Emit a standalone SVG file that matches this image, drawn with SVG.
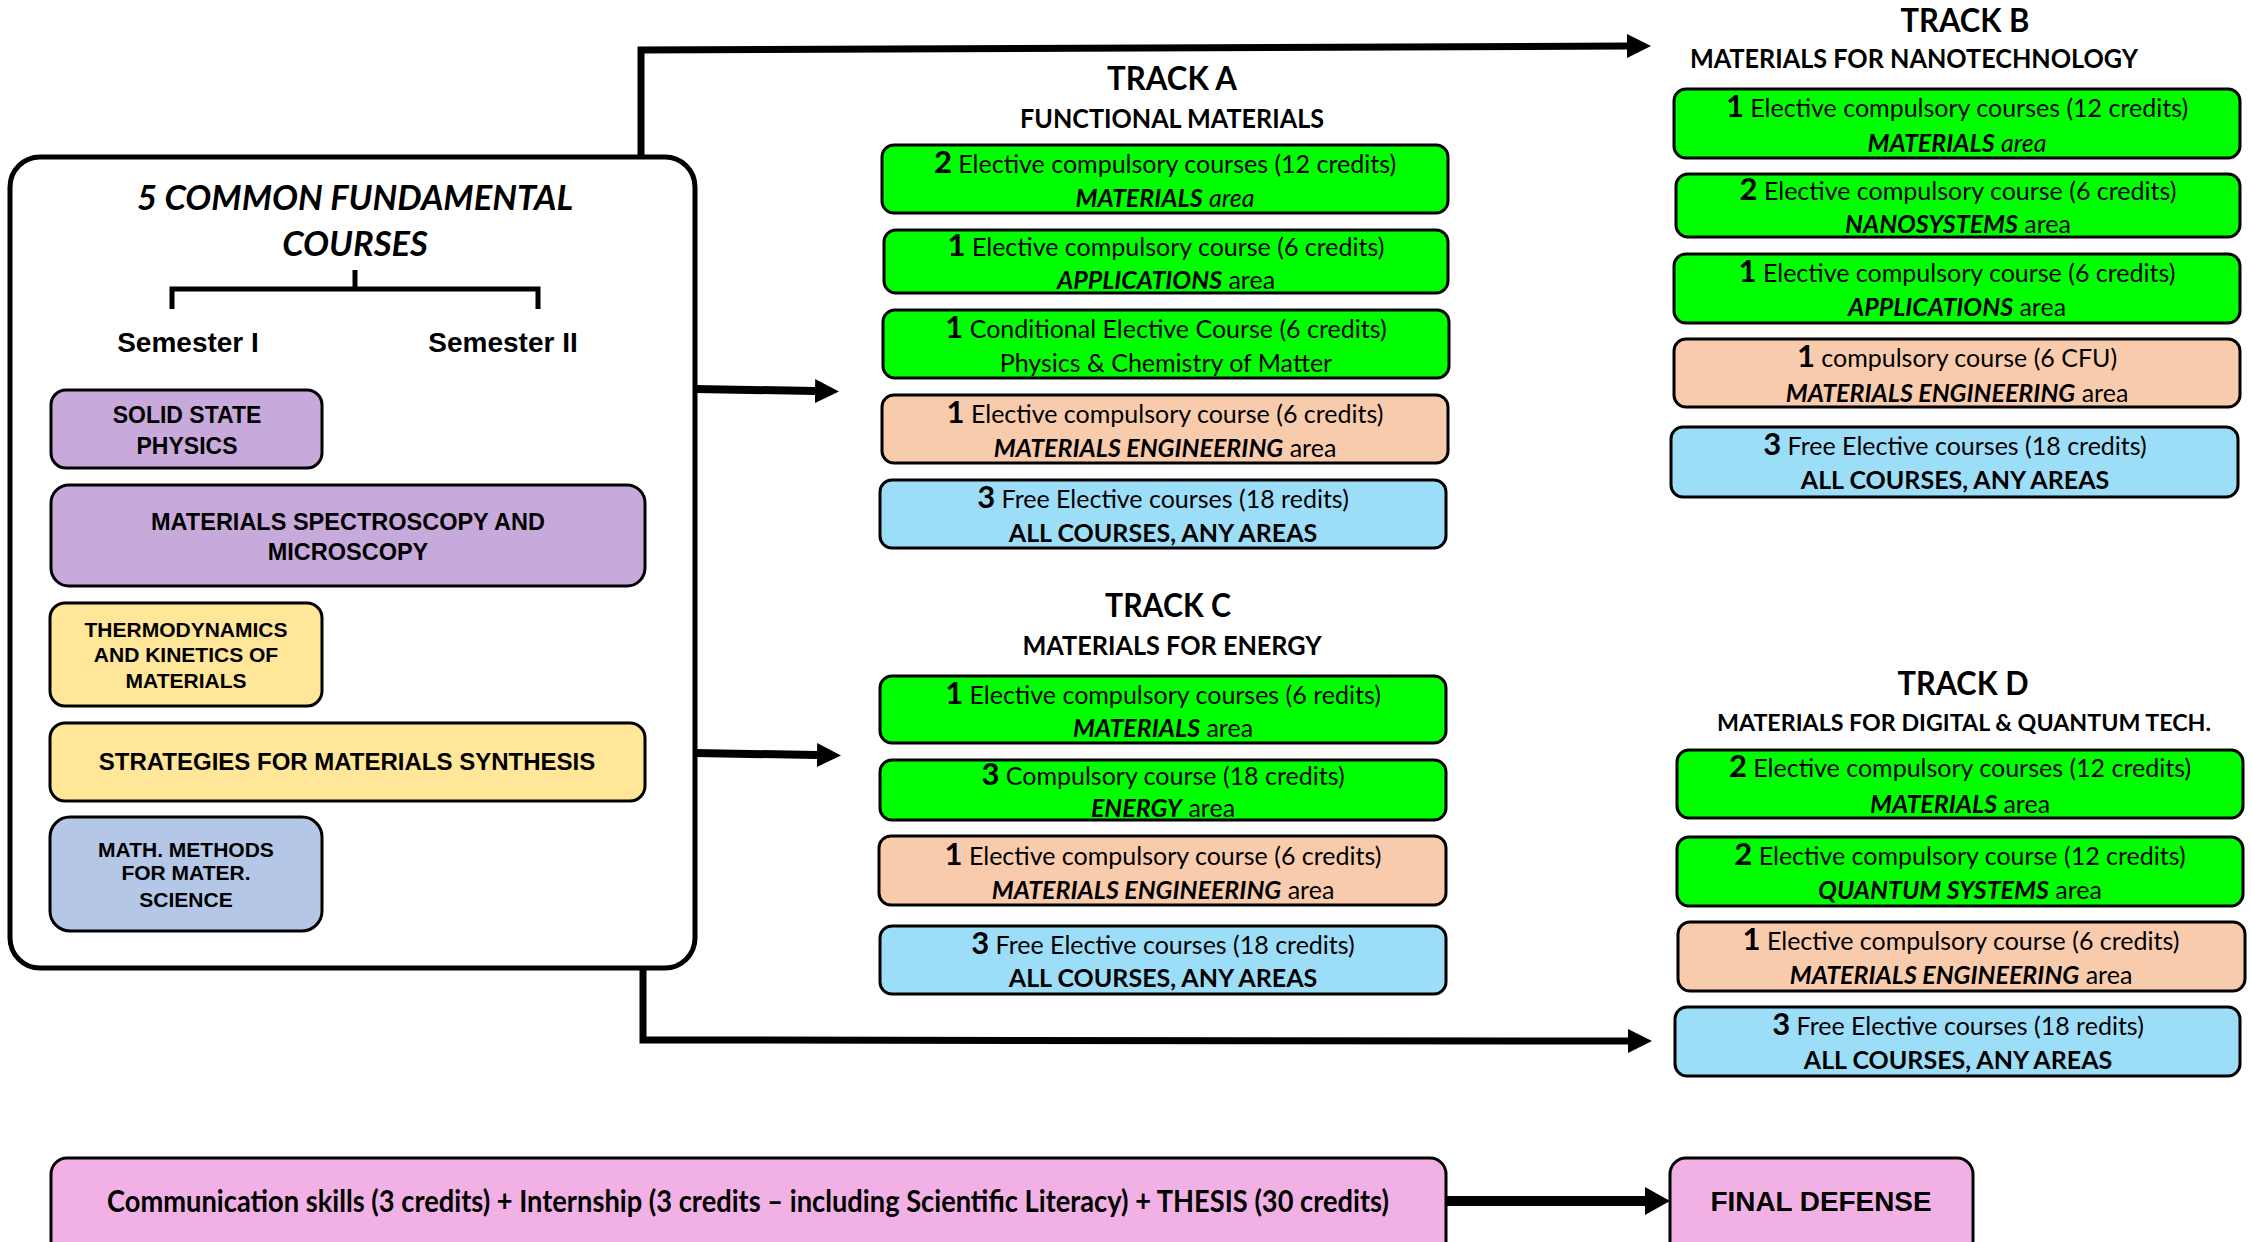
<svg xmlns="http://www.w3.org/2000/svg" width="2251" height="1242" viewBox="0 0 2251 1242">
<style>
.bg{fill:#ffffff}
.main{fill:#ffffff;stroke:#000;stroke-width:5}
.ib{stroke:#000;stroke-width:3}
.tb{stroke:#000;stroke-width:3}
.purple{fill:#C8A9DC}
.yellow{fill:#FFE699}
.slate{fill:#B4C7E7}
.green{fill:#00FF00}
.peach{fill:#F8CBAD}
.blue{fill:#9CDDF8}
.pink{fill:#F1B1E4}
.conn{fill:none;stroke:#000;stroke-width:7;stroke-linejoin:miter}
.lt{font-family:"Liberation Sans",Arial,sans-serif;font-weight:700;text-anchor:middle;fill:#000}
.title{font-family:Lato,"Open Sans",sans-serif;font-weight:700;font-style:italic;font-size:34.5px;text-anchor:middle;fill:#000}
.h1{font-family:Lato,"Open Sans",sans-serif;font-weight:700;font-size:33px;text-anchor:middle;fill:#000}
.h2{font-family:Lato,"Open Sans",sans-serif;font-weight:700;font-size:26px;text-anchor:middle;fill:#000}
.t{font-family:Lato,"Open Sans",sans-serif;font-size:25px;text-anchor:middle;fill:#000}
.num{font-weight:700;font-size:31px}
.bi{font-weight:700;font-style:italic}
.it{font-style:italic}
.b{font-weight:700}
.bt{font-family:Lato,"Open Sans",sans-serif;font-weight:700;font-size:31px;text-anchor:middle;fill:#000}
</style>
<defs>
<marker id="ah" markerUnits="userSpaceOnUse" markerWidth="26" markerHeight="26" refX="0" refY="12" orient="auto">
<path d="M0,0 L24,12 L0,24 Z" fill="#000"/>
</marker>
<marker id="ah2" markerUnits="userSpaceOnUse" markerWidth="28" markerHeight="30" refX="0" refY="14" orient="auto">
<path d="M0,0 L25,14 L0,28 Z" fill="#000"/>
</marker>
</defs>
<rect class="bg" x="0" y="0" width="2251" height="1242"/>

<g id="connectors">
<path class="conn" d="M641,158 V50 L1627,46" marker-end="url(#ah)"/>
<path class="conn" d="M695,389 L815,391" style="stroke-width:8" marker-end="url(#ah)"/>
<path class="conn" d="M695,753 L817,755" style="stroke-width:8" marker-end="url(#ah)"/>
<path class="conn" d="M643,968 V1040 L1628,1041" marker-end="url(#ah)"/>
<path class="conn" d="M1446,1201 L1645,1201" style="stroke-width:10" marker-end="url(#ah2)"/>
</g>

<g id="common-courses">
<rect class="main" x="10" y="157" width="685" height="811" rx="30"/>
<text class="title" x="355" y="210">5 COMMON FUNDAMENTAL</text>
<text class="title" x="355" y="256">COURSES</text>
<path d="M355,270 V289 M172,309 V289 H538 V309" fill="none" stroke="#000" stroke-width="5"/>
<text class="lt" x="188" y="352" font-size="28">Semester I</text>
<text class="lt" x="503" y="352" font-size="28">Semester II</text>
</g>

<g id="solid-state">
<rect class="ib purple" x="51" y="390" width="271" height="78" rx="15"/>
<text class="lt" x="187" y="423" font-size="23">SOLID STATE</text>
<text class="lt" x="187" y="454" font-size="23">PHYSICS</text>
</g>
<g id="spectroscopy">
<rect class="ib purple" x="51" y="485" width="594" height="101" rx="18"/>
<text class="lt" x="348" y="530" font-size="23.5">MATERIALS SPECTROSCOPY AND</text>
<text class="lt" x="348" y="560" font-size="23.5">MICROSCOPY</text>
</g>
<g id="thermo">
<rect class="ib yellow" x="50" y="603" width="272" height="103" rx="15"/>
<text class="lt" x="186" y="637" font-size="21">THERMODYNAMICS</text>
<text class="lt" x="186" y="662" font-size="21">AND KINETICS OF</text>
<text class="lt" x="186" y="688" font-size="21">MATERIALS</text>
</g>
<g id="strategies">
<rect class="ib yellow" x="50" y="723" width="595" height="78" rx="15"/>
<text class="lt" x="347" y="770" font-size="24">STRATEGIES FOR MATERIALS SYNTHESIS</text>
</g>
<g id="math">
<rect class="ib slate" x="50" y="817" width="272" height="114" rx="20"/>
<text class="lt" x="186" y="857" font-size="21">MATH. METHODS</text>
<text class="lt" x="186" y="880" font-size="21">FOR MATER.</text>
<text class="lt" x="186" y="907" font-size="21">SCIENCE</text>
</g>

<g id="track-a">
<text class="h1" x="1172" y="90" textLength="130" lengthAdjust="spacingAndGlyphs">TRACK A</text>
<text class="h2" x="1172" y="128" textLength="304" lengthAdjust="spacingAndGlyphs">FUNCTIONAL MATERIALS</text>
</g>
<g id="track-a-1">
<rect class="tb green" x="882" y="145" width="566" height="68" rx="12"/>
<text class="t" x="1165" y="173"><tspan class="num">2</tspan> Elective compulsory courses (12 credits)</text>
<text class="t" x="1165" y="207"><tspan class="bi">MATERIALS</tspan> <tspan class="it">area</tspan></text>
</g>
<g id="track-a-2">
<rect class="tb green" x="884" y="230" width="564" height="63" rx="12"/>
<text class="t" x="1166" y="256"><tspan class="num">1</tspan> Elective compulsory course (6 credits)</text>
<text class="t" x="1166" y="289"><tspan class="bi">APPLICATIONS</tspan> area</text>
</g>
<g id="track-a-3">
<rect class="tb green" x="883" y="310" width="566" height="68" rx="12"/>
<text class="t" x="1166" y="338"><tspan class="num">1</tspan> Conditional Elective Course (6 credits)</text>
<text class="t" x="1166" y="372">Physics &amp; Chemistry of Matter</text>
</g>
<g id="track-a-4">
<rect class="tb peach" x="882" y="395" width="566" height="68" rx="12"/>
<text class="t" x="1165" y="423"><tspan class="num">1</tspan> Elective compulsory course (6 credits)</text>
<text class="t" x="1165" y="457"><tspan class="bi">MATERIALS ENGINEERING</tspan> area</text>
</g>
<g id="track-a-5">
<rect class="tb blue" x="880" y="480" width="566" height="68" rx="12"/>
<text class="t" x="1163" y="508"><tspan class="num">3</tspan> Free Elective courses (18 redits)</text>
<text class="t b" x="1163" y="542">ALL COURSES, ANY AREAS</text>
</g>

<g id="track-c">
<text class="h1" x="1168" y="617" textLength="126" lengthAdjust="spacingAndGlyphs">TRACK C</text>
<text class="h2" x="1172" y="655" textLength="299" lengthAdjust="spacingAndGlyphs">MATERIALS FOR ENERGY</text>
</g>
<g id="track-c-1">
<rect class="tb green" x="880" y="676" width="566" height="67" rx="12"/>
<text class="t" x="1163" y="704"><tspan class="num">1</tspan> Elective compulsory courses (6 redits)</text>
<text class="t" x="1163" y="737"><tspan class="bi">MATERIALS</tspan> area</text>
</g>
<g id="track-c-2">
<rect class="tb green" x="880" y="760" width="566" height="60" rx="12"/>
<text class="t" x="1163" y="785"><tspan class="num">3</tspan> Compulsory course (18 credits)</text>
<text class="t" x="1163" y="817"><tspan class="bi">ENERGY</tspan> area</text>
</g>
<g id="track-c-3">
<rect class="tb peach" x="879" y="836" width="567" height="69" rx="12"/>
<text class="t" x="1163" y="865"><tspan class="num">1</tspan> Elective compulsory course (6 credits)</text>
<text class="t" x="1163" y="899"><tspan class="bi">MATERIALS ENGINEERING</tspan> area</text>
</g>
<g id="track-c-4">
<rect class="tb blue" x="880" y="926" width="566" height="68" rx="12"/>
<text class="t" x="1163" y="954"><tspan class="num">3</tspan> Free Elective courses (18 credits)</text>
<text class="t b" x="1163" y="987">ALL COURSES, ANY AREAS</text>
</g>

<g id="track-b">
<text class="h1" x="1965" y="32" textLength="129" lengthAdjust="spacingAndGlyphs">TRACK B</text>
<text class="h2" x="1914" y="68" textLength="448" lengthAdjust="spacingAndGlyphs">MATERIALS FOR NANOTECHNOLOGY</text>
</g>
<g id="track-b-1">
<rect class="tb green" x="1674" y="89" width="566" height="69" rx="12"/>
<text class="t" x="1957" y="117"><tspan class="num">1</tspan> Elective compulsory courses (12 credits)</text>
<text class="t" x="1957" y="152"><tspan class="bi">MATERIALS</tspan> <tspan class="it">area</tspan></text>
</g>
<g id="track-b-2">
<rect class="tb green" x="1676" y="174" width="564" height="63" rx="12"/>
<text class="t" x="1958" y="200"><tspan class="num">2</tspan> Elective compulsory course (6 credits)</text>
<text class="t" x="1958" y="233"><tspan class="bi">NANOSYSTEMS</tspan> area</text>
</g>
<g id="track-b-3">
<rect class="tb green" x="1674" y="254" width="566" height="69" rx="12"/>
<text class="t" x="1957" y="282"><tspan class="num">1</tspan> Elective compulsory course (6 credits)</text>
<text class="t" x="1957" y="316"><tspan class="bi">APPLICATIONS</tspan> area</text>
</g>
<g id="track-b-4">
<rect class="tb peach" x="1674" y="339" width="566" height="68" rx="12"/>
<text class="t" x="1957" y="367"><tspan class="num">1</tspan> compulsory course (6 CFU)</text>
<text class="t" x="1957" y="402"><tspan class="bi">MATERIALS ENGINEERING</tspan> area</text>
</g>
<g id="track-b-5">
<rect class="tb blue" x="1671" y="427" width="567" height="70" rx="12"/>
<text class="t" x="1955" y="455"><tspan class="num">3</tspan> Free Elective courses (18 credits)</text>
<text class="t b" x="1955" y="489">ALL COURSES, ANY AREAS</text>
</g>

<g id="track-d">
<text class="h1" x="1963" y="695" textLength="131" lengthAdjust="spacingAndGlyphs">TRACK D</text>
<text class="h2" x="1964" y="731" style="font-size:23.5px" textLength="494" lengthAdjust="spacingAndGlyphs">MATERIALS FOR DIGITAL &amp; QUANTUM TECH.</text>
</g>
<g id="track-d-1">
<rect class="tb green" x="1677" y="750" width="566" height="68" rx="12"/>
<text class="t" x="1960" y="777"><tspan class="num">2</tspan> Elective compulsory courses (12 credits)</text>
<text class="t" x="1960" y="813"><tspan class="bi">MATERIALS</tspan> area</text>
</g>
<g id="track-d-2">
<rect class="tb green" x="1677" y="837" width="566" height="69" rx="12"/>
<text class="t" x="1960" y="865"><tspan class="num">2</tspan> Elective compulsory course (12 credits)</text>
<text class="t" x="1960" y="899"><tspan class="bi">QUANTUM SYSTEMS</tspan> area</text>
</g>
<g id="track-d-3">
<rect class="tb peach" x="1678" y="922" width="567" height="69" rx="12"/>
<text class="t" x="1961" y="950"><tspan class="num">1</tspan> Elective compulsory course (6 credits)</text>
<text class="t" x="1961" y="984"><tspan class="bi">MATERIALS ENGINEERING</tspan> area</text>
</g>
<g id="track-d-4">
<rect class="tb blue" x="1675" y="1007" width="565" height="69" rx="12"/>
<text class="t" x="1958" y="1035"><tspan class="num">3</tspan> Free Elective courses (18 redits)</text>
<text class="t b" x="1958" y="1069">ALL COURSES, ANY AREAS</text>
</g>

<g id="thesis">
<rect class="tb pink" x="51" y="1158" width="1395" height="110" rx="16"/>
<text class="bt" x="748" y="1212" textLength="1282" lengthAdjust="spacingAndGlyphs">Communication skills (3 credits) + Internship (3 credits – including Scientific Literacy) + THESIS (30 credits)</text>
</g>
<g id="final-defense">
<rect class="tb pink" x="1670" y="1158" width="303" height="110" rx="16"/>
<text class="lt" x="1821" y="1211" font-size="28" textLength="221" lengthAdjust="spacingAndGlyphs">FINAL DEFENSE</text>
</g>
</svg>
